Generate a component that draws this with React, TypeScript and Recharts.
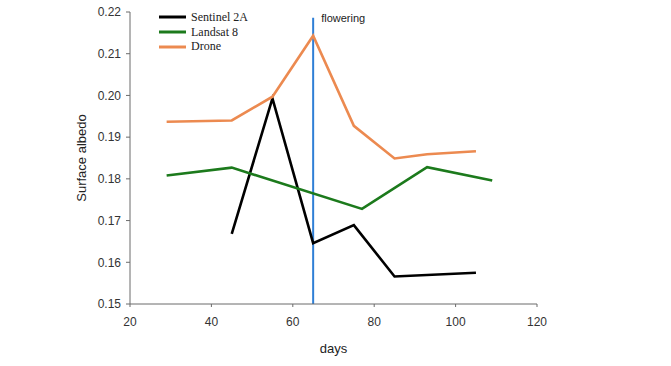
import { LineChart, Line, XAxis, YAxis, ReferenceLine, ReferenceDot, Legend } from "recharts";

const sentinelDays = [45, 55, 65, 75, 85, 105];
const sentinelAlbedo = [0.1668, 0.1993, 0.1646, 0.1689, 0.1566, 0.1575];

const landsatDays = [29, 45, 77, 93, 109];
const landsatAlbedo = [0.1808, 0.1827, 0.1728, 0.1828, 0.1796];

const droneDays = [29, 45, 55, 65, 75, 85, 93, 105];
const droneAlbedo = [0.1937, 0.194, 0.1997, 0.2143, 0.1927, 0.1849, 0.1859, 0.1866];

const xTicks = [20, 40, 60, 80, 100, 120];
const yTicks = [0.15, 0.16, 0.17, 0.18, 0.19, 0.2, 0.21, 0.22];

const floweringDay = 65;
const floweringTop = 0.2186;

const toPoints = (days: number[], vals: number[]) => days.map((day, i) => ({ day, v: vals[i] }));

const series = [
  { name: "Sentinel 2A", color: "#000000", data: toPoints(sentinelDays, sentinelAlbedo) },
  { name: "Landsat 8", color: "#1c7a1c", data: toPoints(landsatDays, landsatAlbedo) },
  { name: "Drone", color: "#ec8a50", data: toPoints(droneDays, droneAlbedo) },
];

const sans = "'Liberation Sans', Arial, sans-serif";

function LegendBox() {
  return (
    <div style={{ fontFamily: "'Liberation Serif', 'Times New Roman', serif", fontSize: 12, color: "#222" }}>
      {series.map((s) => (
        <div key={s.name} style={{ display: "flex", alignItems: "center", height: 14.7 }}>
          <svg width={32} height={6}>
            <line x1={0} y1={3} x2={27} y2={3} stroke={s.color} strokeWidth={3} />
          </svg>
          <span>{s.name}</span>
        </div>
      ))}
    </div>
  );
}

export default function App() {
  return (
    <div style={{ position: "absolute", left: 0, top: 0, background: "#fff" }}>
      <LineChart width={671} height={366} margin={{ top: 12, right: 134, bottom: 0, left: 0 }}>
        <XAxis
          type="number"
          dataKey="day"
          domain={[20, 120]}
          ticks={xTicks}
          allowDuplicatedCategory={false}
          height={62}
          tickSize={3}
          tickMargin={10}
          stroke="#6b6b6b"
          tick={{ fill: "#333", fontSize: 12, fontFamily: sans }}
          label={{
            content: ({ viewBox }: any) => (
              <text x={viewBox.x + viewBox.width / 2} y={viewBox.y + 49} textAnchor="middle" fontSize={13} fontFamily={sans} fill="#222">
                days
              </text>
            ),
          }}
        />
        <YAxis
          type="number"
          domain={[0.15, 0.22]}
          ticks={yTicks}
          width={130}
          tickSize={4}
          tickMargin={5}
          stroke="#6b6b6b"
          tickFormatter={(v: number) => v.toFixed(2)}
          tick={{ fill: "#333", fontSize: 12, fontFamily: sans }}
          label={{
            content: ({ viewBox }: any) => {
              const cx = 86;
              const cy = viewBox.y + viewBox.height / 2;
              return (
                <text x={cx} y={cy} transform={`rotate(-90 ${cx} ${cy})`} textAnchor="middle" fontSize={13} fontFamily={sans} fill="#222">
                  Surface albedo
                </text>
              );
            },
          }}
        />
        <Legend layout="horizontal" verticalAlign="middle" align="center" content={() => <LegendBox />} wrapperStyle={{ left: 159, top: 10, width: 120 }} />
        <ReferenceLine
          segment={[{ x: floweringDay, y: 0.15 }, { x: floweringDay, y: floweringTop }]}
          stroke="#2f7fd6"
          strokeWidth={2}
        />
        <ReferenceDot
          x={floweringDay}
          y={floweringTop}
          r={0}
          fill="none"
          stroke="none"
          label={{ value: "flowering", position: "right", offset: 8, fontSize: 11, fontFamily: sans, fill: "#222" }}
        />
        {series.map((s) => (
          <Line
            key={s.name}
            data={s.data}
            dataKey="v"
            name={s.name}
            type="linear"
            stroke={s.color}
            strokeWidth={2.6}
            dot={false}
            isAnimationActive={false}
          />
        ))}
      </LineChart>
    </div>
  );
}
